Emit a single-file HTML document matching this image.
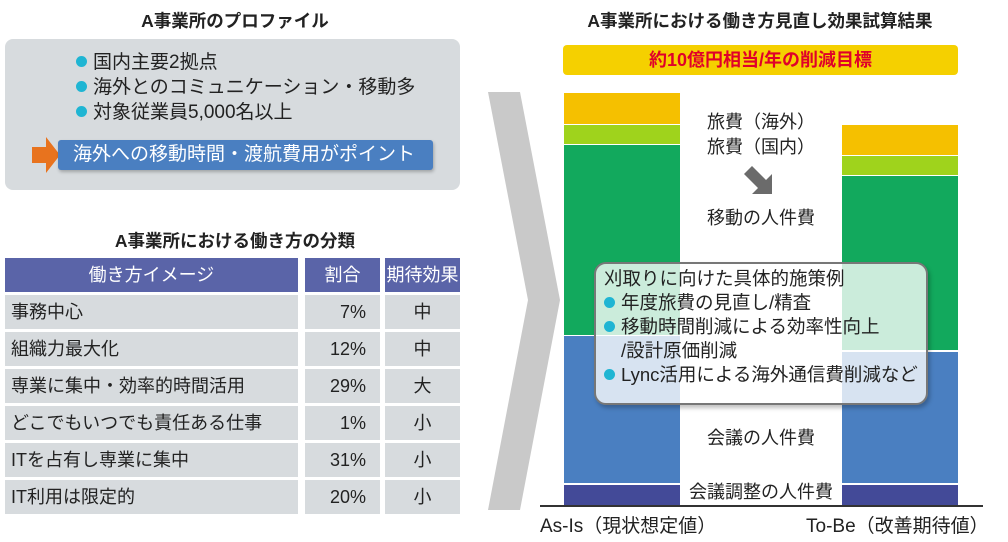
<!DOCTYPE html>
<html><head><meta charset="utf-8"><style>
body{margin:0;width:1008px;height:542px;background:#fff;font-family:"Liberation Sans","Noto Sans CJK JP",sans-serif;color:#222;position:relative;overflow:hidden}
.a{position:absolute;white-space:nowrap}
.t{font-weight:bold;font-size:17.5px}
.dot{display:inline-block;width:11px;height:11px;border-radius:50%;background:#1fb5d3;margin-right:6px;vertical-align:1px}
.row{position:absolute;height:34px;background:#d7dbde;font-size:18px;line-height:34px}
</style></head><body>
<div class="a t" style="left:0;width:470px;text-align:center;top:8px">A事業所のプロファイル</div>
<div class="a" style="left:5px;top:39px;width:455px;height:151px;background:#d7dbde;border-radius:8px"></div>
<div class="a" style="left:76px;top:50px;font-size:19px;line-height:25px"><span class="dot"></span>国内主要2拠点<br><span class="dot"></span>海外とのコミュニケーション・移動多<br><span class="dot"></span>対象従業員5,000名以上</div>
<svg class="a" style="left:32px;top:137px" width="30" height="36"><polygon points="0,10 14,10 14,0 28,18 14,36 14,26 0,26" fill="#e8731e"/></svg>
<div class="a" style="left:58px;top:140px;width:375px;height:30px;background:#4a7fc1;border-radius:3px;color:#fff;font-size:19px;line-height:30px;padding-left:15px;box-sizing:border-box;box-shadow:1px 2px 3px rgba(0,0,0,.25)">海外への移動時間・渡航費用がポイント</div>
<div class="a t" style="left:0;width:470px;text-align:center;top:228px">A事業所における働き方の分類</div>
<div class="row" style="left:5px;top:258px;width:293px;background:#5a64a8;color:#fff;text-align:center">働き方イメージ</div>
<div class="row" style="left:305px;top:258px;width:75px;background:#5a64a8;color:#fff;text-align:center">割合</div>
<div class="row" style="left:385px;top:258px;width:75px;background:#5a64a8;color:#fff;text-align:center">期待効果</div>
<div id="rows"></div>
<script>
var d=[["事務中心","7%","中"],["組織力最大化","12%","中"],["専業に集中・効率的時間活用","29%","大"],["どこでもいつでも責任ある仕事","1%","小"],["ITを占有し専業に集中","31%","小"],["IT利用は限定的","20%","小"]];
var h="";d.forEach(function(r,i){var y=295+i*37;
h+='<div class="row" style="left:5px;top:'+y+'px;width:293px;padding-left:6px;box-sizing:border-box">'+r[0]+'</div>';
h+='<div class="row" style="left:305px;top:'+y+'px;width:75px;text-align:right;padding-right:14px;box-sizing:border-box">'+r[1]+'</div>';
h+='<div class="row" style="left:385px;top:'+y+'px;width:75px;text-align:center">'+r[2]+'</div>';});
document.getElementById("rows").innerHTML=h;
</script>
<svg class="a" style="left:488px;top:92px" width="80" height="420"><polygon points="0,0 32,0 72,208 32,418 0,418 40,208" fill="#c9c9c9"/></svg>
<div class="a t" style="left:540px;width:440px;text-align:center;top:8px">A事業所における働き方見直し効果試算結果</div>
<div class="a" style="left:563px;top:45px;width:395px;height:30px;background:#f5d000;border-radius:4px;color:#e0002a;font-weight:bold;font-size:18px;line-height:30px;text-align:center">約10億円相当/年の削減目標</div>
<div class="a" style="left:564px;top:93px;width:116px;height:31px;background:#f5c000"></div>
<div class="a" style="left:564px;top:125px;width:116px;height:19px;background:#9fd31c"></div>
<div class="a" style="left:564px;top:145px;width:116px;height:190px;background:#12a95d"></div>
<div class="a" style="left:564px;top:336px;width:116px;height:147px;background:#4a7fc1"></div>
<div class="a" style="left:564px;top:485px;width:116px;height:20px;background:#434a98"></div>
<div class="a" style="left:842px;top:125px;width:116px;height:30px;background:#f5c000"></div>
<div class="a" style="left:842px;top:156px;width:116px;height:19px;background:#9fd31c"></div>
<div class="a" style="left:842px;top:176px;width:116px;height:174px;background:#12a95d"></div>
<div class="a" style="left:842px;top:352px;width:116px;height:131px;background:#4a7fc1"></div>
<div class="a" style="left:842px;top:485px;width:116px;height:20px;background:#434a98"></div>
<div class="a" style="left:540px;top:505px;width:443px;height:2px;background:#333"></div>
<div class="a" style="left:680px;width:162px;text-align:center;top:110px;font-size:18px;line-height:25px">旅費（海外）<br>旅費（国内）</div>
<svg class="a" style="left:740px;top:162px" width="40" height="40"><polygon points="4,12 12,4 26,18 32,12 32,32 12,32 18,26" fill="#6b6b6b"/></svg>
<div class="a" style="left:680px;width:162px;text-align:center;top:204px;font-size:18px">移動の人件費</div>
<div class="a" style="left:680px;width:162px;text-align:center;top:424px;font-size:18px">会議の人件費</div>
<div class="a" style="left:660px;width:202px;text-align:center;top:478px;font-size:18px">会議調整の人件費</div>
<div class="a" style="left:594px;top:262px;width:334px;height:143px;box-sizing:border-box;background:rgba(255,255,255,.78);border:2px solid #777;border-radius:12px;box-shadow:2px 3px 4px rgba(0,0,0,.25)"></div>
<div class="a" style="left:604px;top:267px;font-size:18.5px;line-height:24px">刈取りに向けた具体的施策例<br><span class="dot"></span>年度旅費の見直し/精査<br><span class="dot"></span>移動時間削減による効率性向上<br><span style="padding-left:17px">/設計原価削減</span><br><span class="dot"></span>Lync活用による海外通信費削減など</div>
<div class="a" style="left:540px;top:511px;font-size:19px">As-Is（現状想定値）</div>
<div class="a" style="left:806px;top:511px;font-size:19px">To-Be（改善期待値）</div>
</body></html>
